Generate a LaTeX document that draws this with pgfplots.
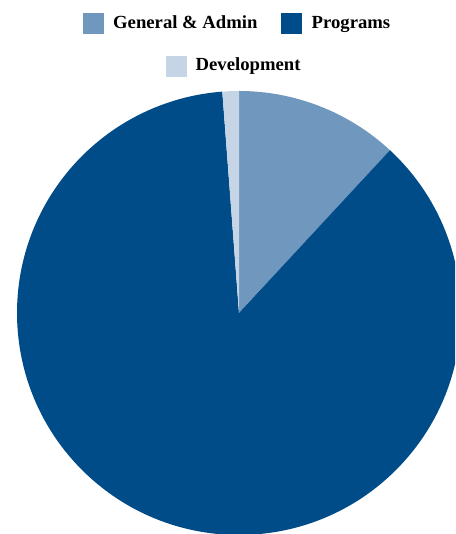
\documentclass[border=0pt]{standalone}
\usepackage{fontspec}
\setmainfont{Liberation Serif}[FakeStretch=1.01]
\usepackage{pgfplots}
\usepackage{pgfplotstable}
\pgfplotsset{compat=1.18}

\definecolor{gacolor}{RGB}{112,151,190}
\definecolor{progcolor}{RGB}{0,76,137}
\definecolor{devcolor}{RGB}{197,213,229}

% share of expenses, percent (clockwise from 12 o'clock)
\pgfplotstableread{
pct
11.9
86.9
1.2
}\piedata

\begin{document}
\begin{tikzpicture}
\pgfplotstablegetelem{0}{pct}\of\piedata \let\pga\pgfplotsretval
\pgfplotstablegetelem{1}{pct}\of\piedata \let\pgb\pgfplotsretval
\pgfplotstablegetelem{2}{pct}\of\piedata \let\pgc\pgfplotsretval
\pgfmathsetmacro\angA{90-3.6*\pga}
\pgfmathsetmacro\angB{\angA-3.6*\pgb}
\pgfmathsetmacro\angC{\angB-3.6*\pgc}
\begin{axis}[
    name=ax,
    width=455pt, height=534pt,
    scale only axis,
    hide axis,
    xmin=0, xmax=455,
    ymin=-534, ymax=0,
    clip=true,
]
    % pie, centre (239,-313), radius 222
    \fill[gacolor] (axis cs:239,-313) -- ++(90:222pt)
        arc[start angle=90, end angle=\angA, radius=222pt] -- cycle;
    \fill[progcolor] (axis cs:239,-313) -- ++(\angA:222pt)
        arc[start angle=\angA, end angle=\angB, radius=222pt] -- cycle;
    \fill[devcolor] (axis cs:239,-313) -- ++(\angB:222pt)
        arc[start angle=\angB, end angle=\angC, radius=222pt] -- cycle;

    % legend
    \fill[gacolor] (axis cs:83.3,-13.3) rectangle (axis cs:104.3,-34.3);
    \fill[progcolor] (axis cs:281,-13.3) rectangle (axis cs:302,-34.3);
    \fill[devcolor] (axis cs:166,-56) rectangle (axis cs:187,-77);
    \begin{scope}[every node/.style={inner sep=0pt, anchor=base west,
        font=\fontsize{18.5}{22}\selectfont\bfseries}]
    \node at (axis cs:113,-29) {General \& Admin};
    \node at (axis cs:311.5,-29) {Programs};
    \node at (axis cs:195.5,-70.7) {Development};
    \end{scope}
\end{axis}
\pgfresetboundingbox
\path[use as bounding box] (ax.south west) rectangle (ax.north east);
\end{tikzpicture}
\end{document}
